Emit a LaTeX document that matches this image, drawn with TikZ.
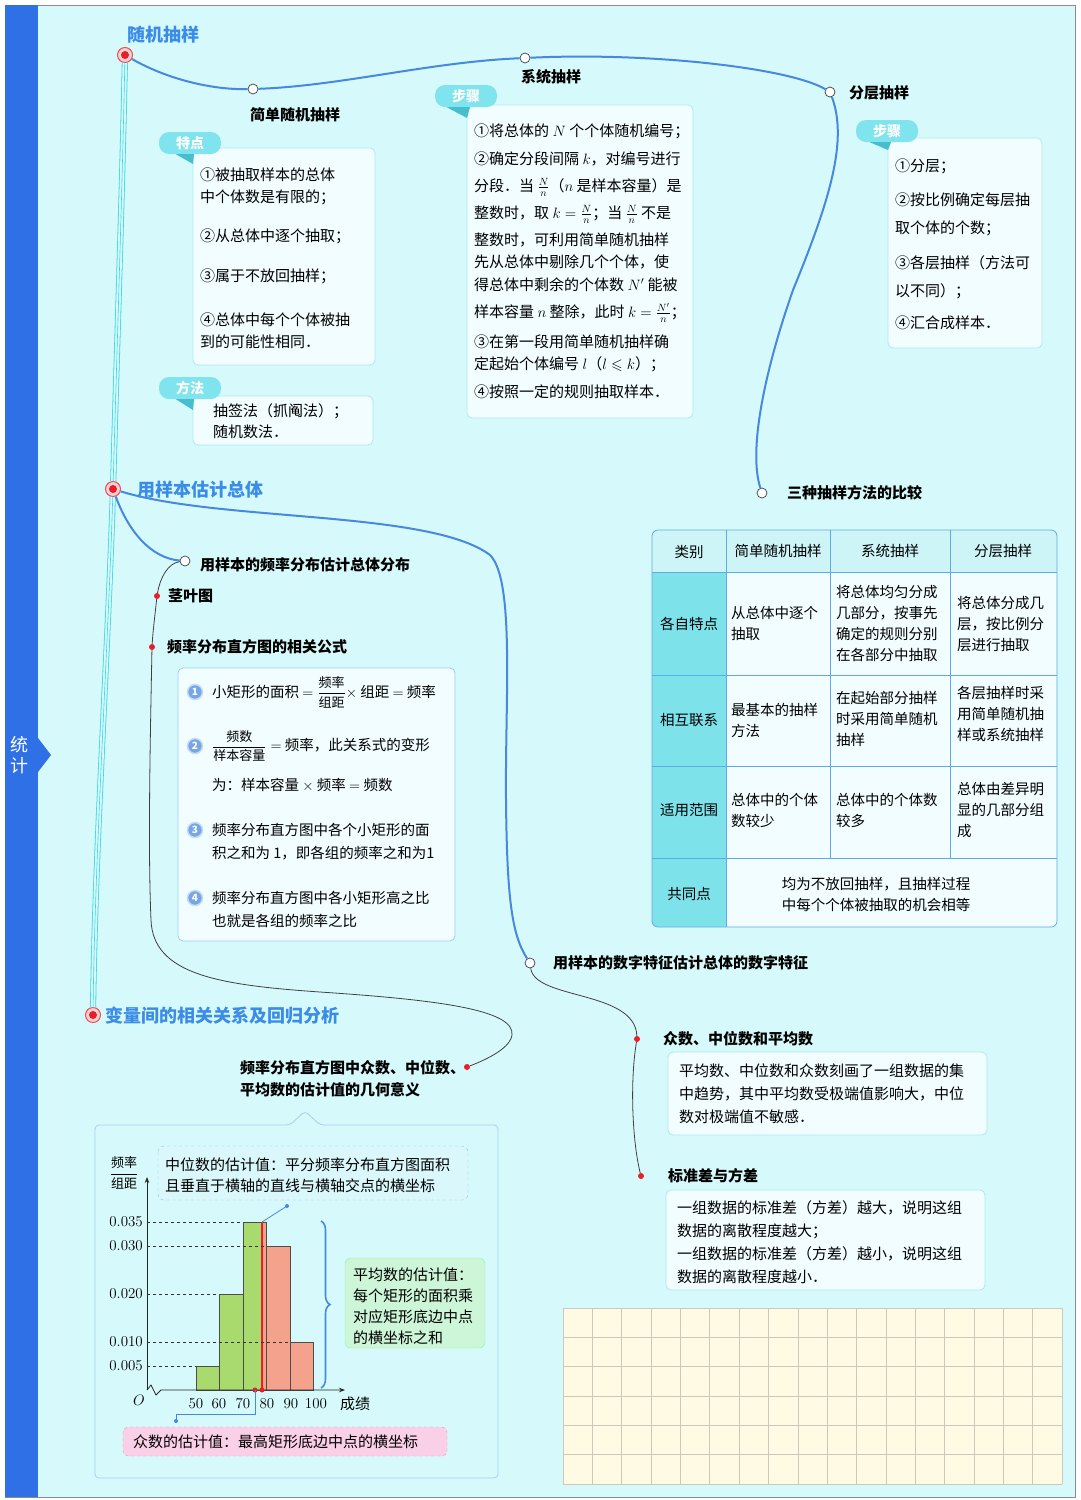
\RequirePackage{fix-cm}
\documentclass[tikz,border=0pt]{standalone}
\usepackage{amsmath}
\usepackage{amssymb}
\usepackage{fontspec}
\setmainfont{Noto Sans CJK SC}
\usepackage{tikz}
\usetikzlibrary{calc,arrows.meta,decorations.pathreplacing}

\definecolor{bgcyan}{RGB}{214,249,251}
\definecolor{sideblue}{RGB}{48,112,230}
\definecolor{headblue}{RGB}{58,140,232}
\definecolor{linkblue}{RGB}{72,136,222}
\definecolor{tagcyan}{RGB}{128,228,238}
\definecolor{tagtail}{RGB}{70,190,205}
\definecolor{boxfill}{RGB}{241,253,254}
\definecolor{boxline}{RGB}{175,232,242}
\definecolor{trunkcyan}{RGB}{60,215,230}
\definecolor{dotred}{RGB}{232,30,40}
\definecolor{tabhead}{RGB}{205,245,248}
\definecolor{tabside}{RGB}{125,226,234}
\definecolor{tabline}{RGB}{95,170,232}
\definecolor{barg}{RGB}{168,218,110}
\definecolor{barr}{RGB}{244,162,140}
\definecolor{medcall}{RGB}{218,247,251}
\definecolor{meancall}{RGB}{205,245,215}
\definecolor{modecall}{RGB}{250,208,232}
\definecolor{gridfill}{RGB}{255,250,228}
\definecolor{gridline}{RGB}{205,200,185}

\newcommand\zhfrac[2]{\dfrac{\text{\fontsize{13}{13}\selectfont #1}}{\text{\fontsize{13}{13}\selectfont #2}}}

\tikzset{
  body/.style={font=\fontsize{15}{22}\selectfont, inner sep=0pt, align=left, anchor=north west},
  cell/.style={font=\fontsize{14.5}{21}\selectfont, inner sep=0pt, align=left, anchor=west},
  bluehead/.style={font=\fontsize{18}{20}\selectfont\bfseries, text=headblue, inner sep=0pt, anchor=west},
  subhead/.style={font=\fontsize{15}{22}\selectfont\bfseries, inner sep=0pt, anchor=west},
  card/.style={draw=boxline, fill=boxfill, rounded corners=5pt, line width=0.8pt},
  tagpill/.style={fill=tagcyan, text=white, rounded corners=10pt, minimum width=62pt, minimum height=22pt, inner sep=0pt, font=\fontsize{14}{14}\selectfont\bfseries},
  hub/.style={circle, draw=dotred!80, fill=dotred!20, line width=1pt, minimum size=15pt, inner sep=0pt,
    path picture={\fill[dotred] (path picture bounding box.center) circle (4pt);}},
  knot/.style={circle, draw=black!75, fill=white, line width=0.7pt, minimum size=10pt, inner sep=0pt},
  pin/.style={circle, fill=dotred, minimum size=6pt, inner sep=0pt},
  bluelink/.style={draw=linkblue, line width=2pt},
  thinlink/.style={draw=black!75, line width=0.8pt},
  trunkout/.style={draw=trunkcyan, line width=0.8pt, double=bgcyan, double distance=4.5pt},
  trunkin/.style={draw=trunkcyan, line width=0.6pt},
  numdot/.style={circle, fill=linkblue!75, draw=linkblue!30, line width=1.5pt, text=white, minimum size=15pt, inner sep=0pt, font=\fontsize{10}{10}\selectfont\bfseries},
  tick/.style={font=\fontsize{15}{15}\selectfont, inner sep=0pt},
}

\begin{document}
\begin{tikzpicture}[x=1pt, y=-1pt]
\useasboundingbox (0,0) rectangle (1080,1500);
% background and side bar
\fill[bgcyan] (38,5) rectangle (1075,1497);
\draw[black!45, line width=0.6pt] (5,5) rectangle (1075,1497);
\fill[sideblue] (5,5) rectangle (38,1497);
\fill[sideblue] (38,738) -- (51,755) -- (38,772) -- cycle;
\node[font=\fontsize{18}{21}\selectfont, text=white, align=center, inner sep=0pt] (side) at (19,755) {统\\计};

% cards
\draw[card] (193,148) rectangle (375,365);
\draw[card] (193,396) rectangle (373,445);
\draw[card] (467,105) rectangle (693,418);
\draw[card] (888,138) rectangle (1042,348);
\draw[card, draw=tabline!60] (178,668) rectangle (455,941);
\draw[card] (668,1052) rectangle (987,1135);
\draw[card] (666,1190) rectangle (985,1290);

% tags
\node[tagpill] (g1) at (190,143) {特点};
\node[tagpill] (g2) at (190,388) {方法};
\node[tagpill] (g3) at (466,96) {步骤};
\node[tagpill] (g4) at (887,131) {步骤};
\fill[tagtail] ($(g1.south west)+(17,0)$) -- ($(g1.south)+(4,0)$) -- (193,164) -- cycle;
\fill[tagtail] ($(g2.south west)+(17,0)$) -- ($(g2.south)+(4,0)$) -- (193,410) -- cycle;
\fill[tagtail] ($(g3.south west)+(12,0)$) -- ($(g3.south)+(4,0)$) -- (467,118) -- cycle;
\fill[tagtail] ($(g4.south west)+(14,0)$) -- ($(g4.south)+(4,0)$) -- (888,150) -- cycle;

% hubs and knots
\node[hub] (r1) at (125,55) {};
\node[hub] (r2) at (113,489) {};
\node[hub] (r3) at (93,1015) {};
\node[knot] (k1) at (253,89) {};
\node[knot] (k2) at (525,58) {};
\node[knot] (k3) at (830,92) {};
\node[knot] (k4) at (762,493) {};
\node[knot] (k5) at (185,561) {};
\node[knot] (k6) at (530,963) {};
\node[pin] (p1) at (157,596) {};
\node[pin] (p2) at (152,647) {};
\node[pin] (p3) at (467,1067) {};
\node[pin] (p4) at (637,1039) {};
\node[pin] (p5) at (641,1176) {};

% trunk
\draw[trunkout] (r1) .. controls (122,200) and (116,380) .. (r2);
\draw[trunkin] (r1) .. controls (122,200) and (116,380) .. (r2);
\draw[trunkout] (r2) .. controls (108,650) and (95,850) .. (r3);
\draw[trunkin] (r2) .. controls (108,650) and (95,850) .. (r3);

% branches
\draw[bluelink] (r1) .. controls (165,78) and (210,90) .. (k1);
\draw[bluelink] (k1) .. controls (340,86) and (430,62) .. (k2);
\draw[bluelink] (k2) .. controls (650,52) and (790,68) .. (k3);
\draw[bluelink] (k3) .. controls (848,140) and (830,200) .. (793,290) .. controls (765,370) and (748,450) .. (k4);
\draw[bluelink] (r2) .. controls (128,530) and (150,558) .. (k5);
\draw[bluelink] (r2) .. controls (220,522) and (430,510) .. (490,555) .. controls (515,580) and (505,700) .. (506,800) .. controls (507,900) and (512,935) .. (k6);
\draw[thinlink] (k5) .. controls (168,563) and (160,578) .. (p1);
\draw[thinlink] (p1) .. controls (155,615) and (153,630) .. (p2);
\draw[thinlink] (p2) .. controls (150,750) and (148,850) .. (151,920) .. controls (153,975) and (220,985) .. (320,992) .. controls (440,1000) and (515,1010) .. (512,1035) .. controls (510,1050) and (480,1062) .. (p3);
\draw[thinlink] (k6) .. controls (535,1000) and (635,990) .. (p4);
\draw[thinlink] (p4) .. controls (630,1080) and (632,1140) .. (p5);

% headings
\node[bluehead] (h1) at (127,35) {随机抽样};
\node[bluehead] (h2) at (137,490) {用样本估计总体};
\node[bluehead] (h3) at (105,1016) {变量间的相关关系及回归分析};
\node[subhead, anchor=center] (t1) at (295,115) {简单随机抽样};
\node[subhead, anchor=center] (t2) at (551,77) {系统抽样};
\node[subhead] (t3) at (849,93) {分层抽样};
\node[subhead] (t4) at (787,493) {三种抽样方法的比较};
\node[subhead] (t5) at (200,565) {用样本的频率分布估计总体分布};
\node[subhead] (t6) at (168,596) {茎叶图};
\node[subhead] (t7) at (167,647) {频率分布直方图的相关公式};
\node[subhead, align=left, anchor=north west] (t8) at (240,1060) {频率分布直方图中众数、中位数、\\平均数的估计值的几何意义};
\node[subhead] (t9) at (553,963) {用样本的数字特征估计总体的数字特征};
\node[subhead] (t10) at (663,1039) {众数、中位数和平均数};
\node[subhead] (t11) at (668,1176) {标准差与方差};

% card texts
\node[body] (c1) at (200,167.5) {①被抽取样本的总体\\中个体数是有限的；\\[17pt]②从总体中逐个抽取；\\[18pt]③属于不放回抽样；\\[22pt]④总体中每个个体被抽\\到的可能性相同．};
\node[body, font=\fontsize{15}{21}\selectfont] (c2) at (213,403.5) {抽签法（抓阄法）；\\随机数法．};
\node[body] (c3) at (474,123.5) {①将总体的 $N$ 个个体随机编号；\\[6pt]②确定分段间隔 $k$，对编号进行\\[5pt]分段．当 $\frac{N}{n}$（$n$ 是样本容量）是\\[5pt]整数时，取 $k=\frac{N}{n}$；当 $\frac{N}{n}$ 不是\\[5pt]整数时，可利用简单随机抽样\\先从总体中剔除几个个体，使\\[1pt]得总体中剩余的个体数 $N'$ 能被\\[5pt]样本容量 $n$ 整除，此时 $k=\frac{N'}{n}$；\\[8pt]③在第一段用简单随机抽样确\\定起始个体编号 $l$（$l\leqslant k$）；\\[6pt]④按照一定的规则抽取样本．};
\node[body] (c4) at (895,158.5) {①分层；\\[12pt]②按比例确定每层抽\\[6pt]取个体的个数；\\[13pt]③各层抽样（方法可\\[6pt]以不同）；\\[10pt]④汇合成样本．};
\node[body, font=\fontsize{15}{23}\selectfont] (c5) at (679,1063.5) {平均数、中位数和众数刻画了一组数据的集\\中趋势，其中平均数受极端值影响大，中位\\数对极端值不敏感．};
\node[body, font=\fontsize{15}{23}\selectfont] (c6) at (677,1200.5) {一组数据的标准差（方差）越大，说明这组\\数据的离散程度越大；\\一组数据的标准差（方差）越小，说明这组\\数据的离散程度越小．};

% formula card
\node[numdot] (n1) at (195,692) {1};
\node[numdot] (n2) at (195,746) {2};
\node[numdot] (n3) at (195,830) {3};
\node[numdot] (n4) at (195,898) {4};
\node[cell, font=\fontsize{14.5}{23}\selectfont] (f1) at (212,692) {小矩形的面积 $=\zhfrac{频率}{组距}\times$ 组距 $=$ 频率};
\node[cell, font=\fontsize{14.5}{23}\selectfont] (f2) at (212,746) {$\zhfrac{频数}{样本容量}=$ 频率，此关系式的变形};
\node[cell, font=\fontsize{14.5}{23}\selectfont] (f2b) at (212,785) {为：样本容量 $\times$ 频率 $=$ 频数};
\node[cell, font=\fontsize{14.5}{23}\selectfont] (f3) at (212,841.5) {频率分布直方图中各个小矩形的面\\积之和为 1，即各组的频率之和为1};
\node[cell, font=\fontsize{14.5}{23}\selectfont] (f4) at (212,909.5) {频率分布直方图中各小矩形高之比\\也就是各组的频率之比};

% comparison table
\begin{scope}
\clip[rounded corners=6pt] (652,530) rectangle (1057,927);
\fill[boxfill] (652,530) rectangle (1057,927);
\fill[tabhead] (652,530) rectangle (1057,572);
\fill[tabside] (652,572) rectangle (726,927);
\end{scope}
\draw[tabline, line width=0.8pt, rounded corners=6pt] (652,530) rectangle (1057,927);
\draw[tabline, line width=0.8pt] (652,572) -- (1057,572) (652,675) -- (1057,675) (652,766) -- (1057,766) (652,858) -- (1057,858);
\draw[tabline, line width=0.8pt] (726,530) -- (726,927) (830,530) -- (830,858) (950,530) -- (950,858);
\node[cell, anchor=center] (th1) at (689,552) {类别};
\node[cell, anchor=center] (th2) at (778,551) {简单随机抽样};
\node[cell, anchor=center] (th3) at (890,551) {系统抽样};
\node[cell, anchor=center] (th4) at (1003,551) {分层抽样};
\node[cell, anchor=center] (tr1) at (689,624) {各自特点};
\node[cell, anchor=center] (tr2) at (689,720) {相互联系};
\node[cell, anchor=center] (tr3) at (689,810) {适用范围};
\node[cell, anchor=center] (tr4) at (689,894) {共同点};
\node[cell] (a1) at (731,623) {从总体中逐个\\抽取};
\node[cell] (a2) at (836,623.5) {将总体均匀分成\\几部分，按事先\\确定的规则分别\\在各部分中抽取};
\node[cell] (a3) at (957,624) {将总体分成几\\层，按比例分\\层进行抽取};
\node[cell] (b1) at (731,720) {最基本的抽样\\方法};
\node[cell] (b2) at (836,719) {在起始部分抽样\\时采用简单随机\\抽样};
\node[cell] (b3) at (957,714) {各层抽样时采\\用简单随机抽\\样或系统抽样};
\node[cell] (d1) at (731,810) {总体中的个体\\数较少};
\node[cell] (d2) at (836,810) {总体中的个体数\\较多};
\node[cell] (d3) at (957,810) {总体由差异明\\显的几部分组\\成};
\node[cell, anchor=center] (e1) at (876,894) {均为不放回抽样，且抽样过程\\中每个个体被抽取的机会相等};

% histogram card
\draw[draw=tabline!55, line width=0.8pt, rounded corners=4pt] (95,1125) -- (290,1125) -- (305,1111) -- (320,1125) -- (498,1125) -- (498,1478) -- (95,1478) -- cycle;
\draw[draw=tabline!70, dashed, fill=medcall, rounded corners=6pt] (158,1146) rectangle (468,1200);
\node[body, font=\fontsize{15}{21}\selectfont] (mtxt) at (165,1157.5) {中位数的估计值：平分频率分布直方图面积\\且垂直于横轴的直线与横轴交点的横坐标};
\draw[draw=meancall!70!green, fill=meancall, rounded corners=6pt] (345,1258) rectangle (485,1348);
\node[body, font=\fontsize{15}{21}\selectfont] (atxt) at (353,1267.5) {平均数的估计值：\\每个矩形的面积乘\\对应矩形底边中点\\的横坐标之和};
\draw[draw=modecall!70!red, dashed, fill=modecall, rounded corners=5pt] (123,1427) rectangle (447,1456);
\node[cell, font=\fontsize{15}{21}\selectfont] (otxt) at (133,1442) {众数的估计值：最高矩形底边中点的横坐标};

% bars
\filldraw[draw=black!70, fill=barg] (196,1366) rectangle (219,1390);
\filldraw[draw=black!70, fill=barg] (219,1294) rectangle (243,1390);
\fill[barg] (243,1222) rectangle (262,1390);
\fill[barr] (262,1222) rectangle (266,1390);
\draw[black!70] (243,1222) rectangle (266,1390);
\filldraw[draw=black!70, fill=barr] (266,1246) rectangle (290,1390);
\filldraw[draw=black!70, fill=barr] (290,1342) rectangle (313,1390);
\draw[dotred, line width=2.2pt] (262,1222) -- (262,1390);

% axes
\coordinate (orig) at (147,1390);
\coordinate (ytop) at (147,1177);
\coordinate (xend) at (345,1390);
\draw[black!85, line width=0.8pt, -{Stealth[length=6pt]}] (orig) -- (ytop);
\draw[black!85, line width=0.8pt, -{Stealth[length=6pt]}] (orig) -- (151,1385) -- (156,1395) -- (161,1390) -- (xend);
\draw[black!80, dashed] (147,1222) -- (243,1222) (147,1246) -- (266,1246) (147,1294) -- (219,1294) (147,1342) -- (290,1342) (147,1366) -- (196,1366);
\node[tick, anchor=east] (y35) at (143,1222) {$0.035$};
\node[tick, anchor=east] (y30) at (143,1246) {$0.030$};
\node[tick, anchor=east] (y20) at (143,1294) {$0.020$};
\node[tick, anchor=east] (y10) at (143,1342) {$0.010$};
\node[tick, anchor=east] (y05) at (143,1366) {$0.005$};
\node[tick] (x50) at (196,1404) {$50$};
\node[tick] (x60) at (219,1404) {$60$};
\node[tick] (x70) at (243,1404) {$70$};
\node[tick] (x80) at (267,1404) {$80$};
\node[tick] (x90) at (291,1404) {$90$};
\node[tick] (x100) at (316,1404) {$100$};
\node[tick] (xlab) at (355,1404) {成绩};
\node[tick] (olab) at (139,1400) {$O$};
\node[tick] (ylab) at (124,1173) {$\zhfrac{频率}{组距}$};

% callout connectors
\coordinate (modept) at (255,1390);
\coordinate (modeend) at (176,1421);
\coordinate (medtop) at (262,1222);
\coordinate (medend) at (287,1206);
\fill[dotred] (modept) circle (2.5);
\fill[dotred] (262,1390) circle (2.5);
\draw[linkblue, line width=0.8pt] (modept) -- (255,1414) -| (modeend);
\fill[linkblue] (modeend) circle (2);
\draw[linkblue, line width=0.8pt] (medtop) -- (medend);
\fill[linkblue] (medend) circle (2);
\draw[linkblue, line width=1.6pt, decorate, decoration={brace, amplitude=9pt}] (321,1221) -- (321,1388);

% grid
\fill[gridfill] (563,1308) rectangle (1062,1484);
\foreach \i in {0,...,17}
  \draw[gridline, line width=0.6pt] ({563+29.35*\i},1308) -- ({563+29.35*\i},1484);
\foreach \j in {0,...,6}
  \draw[gridline, line width=0.6pt] (563,{1308+29.33*\j}) -- (1062,{1308+29.33*\j});
\end{tikzpicture}
\end{document}
